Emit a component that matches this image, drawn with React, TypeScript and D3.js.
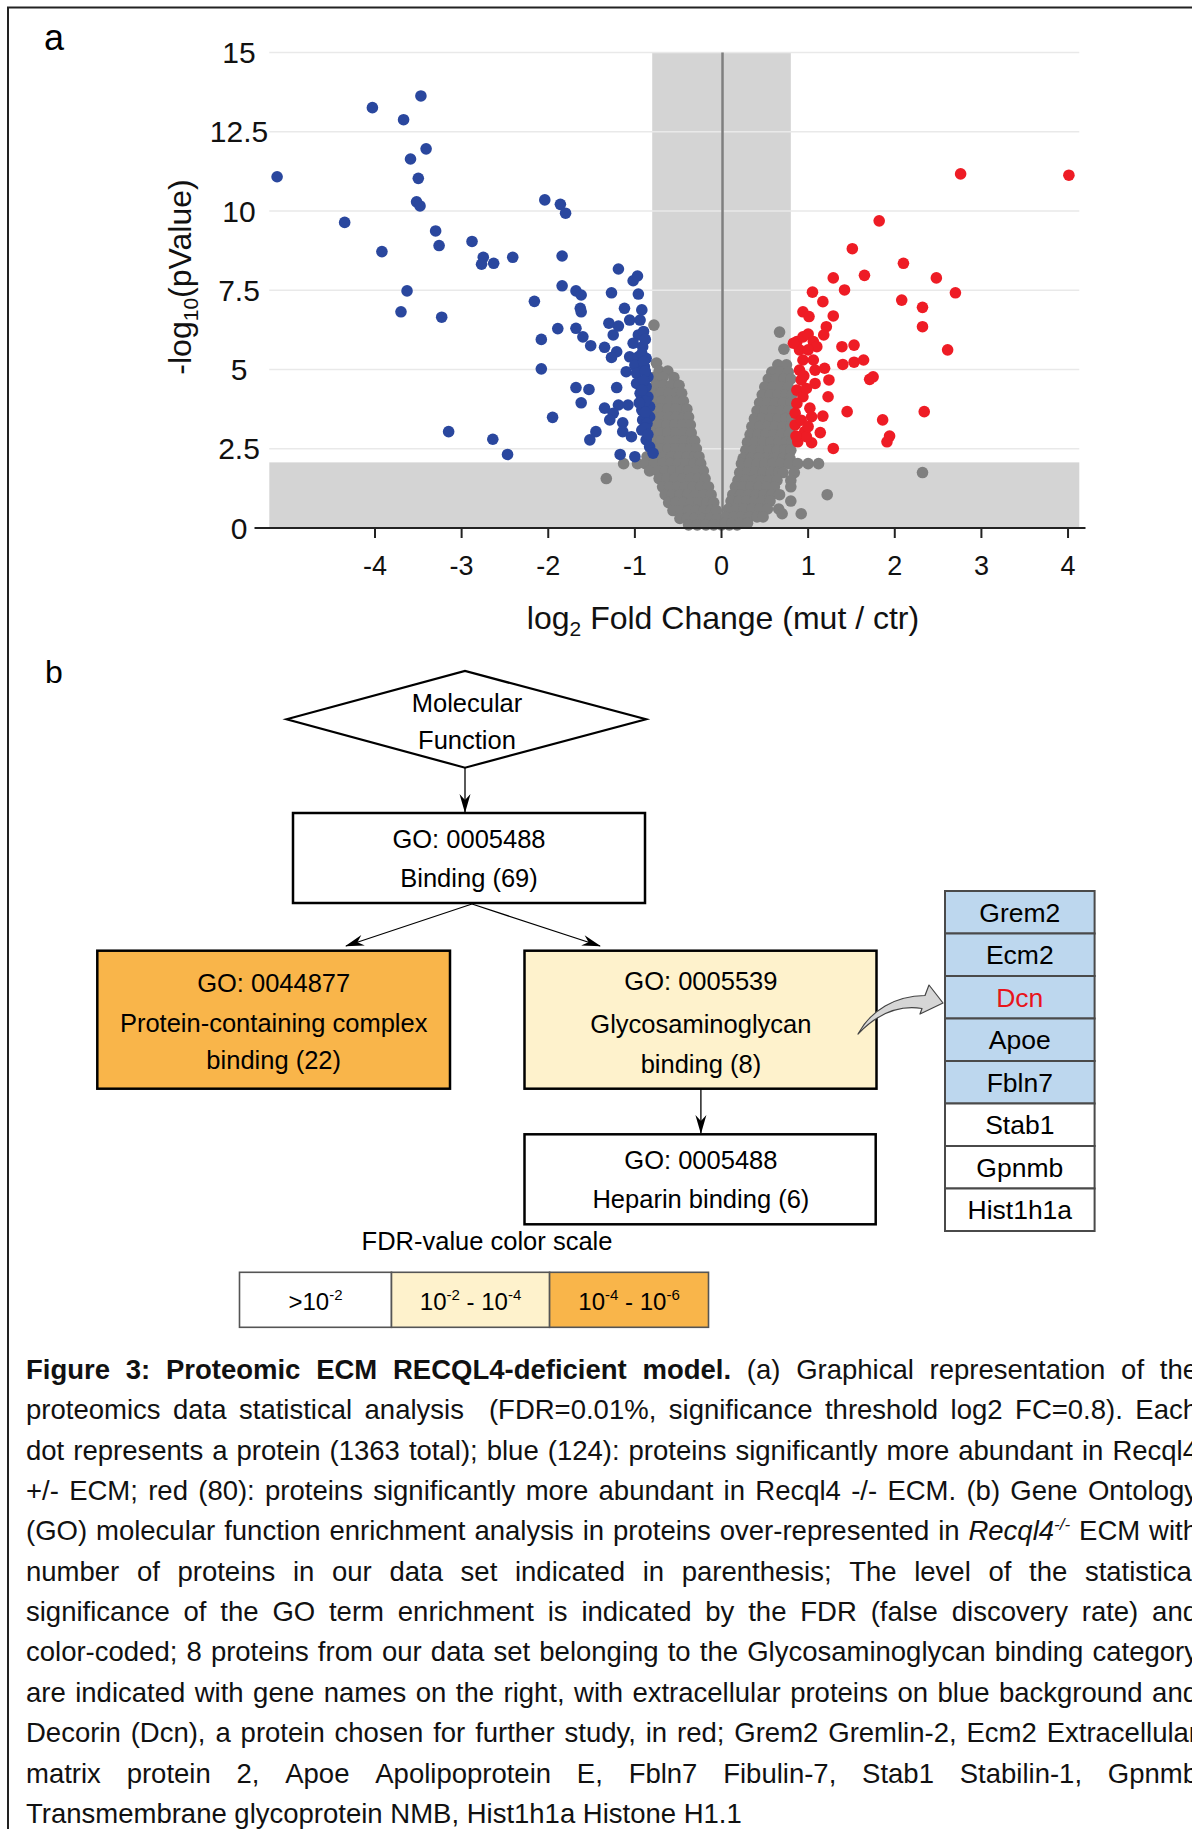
import React, { useMemo } from 'react';
import * as d3 from 'd3';

const FONT = "'Liberation Sans', Arial, Helvetica, sans-serif";

// ---------- panel a: volcano plot ----------
const xDomain: [number, number] = [-5.22, 4.13];
const yDomain: [number, number] = [0, 15];
const xTicks = [-4, -3, -2, -1, 0, 1, 2, 3, 4];
const yTicks = [0, 2.5, 5, 7.5, 10, 12.5, 15];
const yTickLabels = ['0', '2.5', '5', '7.5', '10', '12.5', '15'];
const fcThreshold = 0.8;
const pThreshold = 2.07;

// proteins more abundant in Recql4 +/- ECM (log2 FC, -log10 p)
const bluePoints: [number, number][] = [
  [-5.13, 11.08], [-4.03, 13.26], [-3.47, 13.63], [-3.67, 12.88], [-3.41, 11.96],
  [-3.59, 11.64], [-3.5, 11.03], [-3.52, 10.29], [-3.48, 10.16], [-4.35, 9.64],
  [-3.3, 9.37], [-3.26, 8.91], [-3.92, 8.72], [-2.88, 9.04], [-2.75, 8.54],
  [-2.77, 8.32], [-2.63, 8.35], [-2.41, 8.54], [-3.63, 7.48], [-3.7, 6.82],
  [-3.23, 6.65], [-3.15, 3.04], [-2.64, 2.8], [-2.47, 2.32], [-2.04, 10.35],
  [-1.86, 10.21], [-1.8, 9.93], [-2.16, 7.15], [-2.08, 5.95], [-2.08, 5.02],
  [-1.95, 3.49], [-1.89, 6.29], [-1.84, 8.58], [-1.84, 7.64], [-1.68, 7.48],
  [-1.62, 7.35], [-1.63, 6.93], [-1.62, 6.82], [-1.68, 6.3], [-1.6, 6.03],
  [-1.51, 5.75], [-1.68, 4.43], [-1.53, 4.37], [-1.62, 3.95], [-1.45, 3.04],
  [-1.52, 2.78], [-1.19, 8.17], [-1.02, 7.8], [-0.97, 7.95], [-1.27, 7.42],
  [-0.96, 7.38], [-1.12, 6.93], [-0.92, 6.88], [-1.3, 6.46], [-1.19, 6.37],
  [-1.06, 6.56], [-0.94, 6.56], [-1.25, 6.09], [-0.96, 6.09], [-1.35, 5.7],
  [-1.21, 5.56], [-1.27, 5.38], [-1.02, 5.83], [-0.91, 5.72], [-1.06, 5.4],
  [-0.96, 5.4], [-0.87, 5.35], [-1.0, 5.14], [-0.89, 5.09], [-1.1, 4.93],
  [-0.98, 4.88], [-0.85, 4.77], [-0.98, 4.56], [-0.87, 4.46], [-1.21, 4.43],
  [-0.94, 4.25], [-0.85, 4.14], [-1.35, 3.78], [-1.19, 3.88], [-1.08, 3.88],
  [-1.25, 3.62], [-1.29, 3.41], [-1.14, 3.32], [-0.92, 3.72], [-0.83, 3.83],
  [-0.91, 3.41], [-0.83, 3.51], [-1.14, 3.04], [-1.04, 2.88], [-0.92, 3.09],
  [-0.87, 2.78], [-0.83, 2.56], [-0.79, 2.36], [-1.17, 2.32], [-1.0, 2.25],
  [-0.9, 6.2], [-0.88, 5.95], [-0.92, 5.5], [-0.9, 5.25], [-0.88, 4.95],
  [-0.9, 4.65], [-0.92, 4.35], [-0.88, 4.0], [-0.95, 3.95], [-0.88, 3.65],
  [-0.86, 3.3], [-0.88, 3.15], [-0.85, 2.95],
];

// proteins more abundant in Recql4 -/- ECM
const redPoints: [number, number][] = [
  [2.76, 11.17], [4.01, 11.13], [1.82, 9.69], [1.51, 8.81], [2.1, 8.35],
  [1.29, 7.89], [1.65, 7.97], [2.48, 7.89], [1.42, 7.51], [2.7, 7.42],
  [1.05, 7.44], [1.17, 7.14], [2.08, 7.19], [2.32, 6.96], [2.32, 6.35],
  [0.94, 6.82], [1.01, 6.67], [1.29, 6.69], [1.21, 6.35], [1.18, 6.09],
  [2.61, 5.62], [1.39, 5.72], [1.53, 5.77], [1.4, 5.16], [1.53, 5.23],
  [1.64, 5.3], [1.71, 4.69], [1.75, 4.77], [1.45, 3.67], [2.34, 3.67],
  [1.86, 3.41], [1.94, 2.9], [1.91, 2.72], [1.29, 2.51], [0.87, 5.88],
  [0.94, 6.03], [1.0, 6.12], [1.06, 5.88], [1.1, 5.72], [0.9, 5.62],
  [1.0, 5.62], [0.94, 5.3], [1.06, 5.3], [0.9, 4.98], [1.08, 4.98],
  [1.19, 5.04], [0.92, 4.67], [1.08, 4.56], [1.24, 4.67], [0.87, 4.35],
  [0.94, 4.14], [1.23, 4.14], [0.87, 3.93], [1.02, 3.78], [0.85, 3.62],
  [1.04, 3.51], [1.17, 3.53], [0.96, 3.04], [1.14, 3.01], [0.88, 2.72],
  [1.04, 2.69], [0.98, 2.88], [0.83, 5.83], [0.85, 3.25], [0.86, 2.9],
  [0.95, 4.8], [0.98, 4.4], [0.92, 3.4], [1.0, 3.2],
];

// non-significant proteins, read row by row (-log10 p, log2 FC values)
const grayRows: [number, number[]][] = [
  [6.4, [-0.78]],
  [5.2, [-0.75]],
  [4.95, [-0.72, -0.62]],
  [4.75, [-0.78, -0.68, -0.55]],
  [4.5, [-0.76, -0.67, -0.58, -0.49]],
  [4.25, [-0.79, -0.7, -0.61, -0.52, -0.46]],
  [4.0, [-0.78, -0.69, -0.6, -0.51, -0.44]],
  [3.75, [-0.8, -0.71, -0.62, -0.53, -0.44, -0.4]],
  [3.5, [-0.79, -0.7, -0.61, -0.52, -0.43, -0.38]],
  [3.25, [-0.81, -0.72, -0.63, -0.54, -0.45, -0.36]],
  [3.0, [-0.8, -0.71, -0.62, -0.53, -0.44, -0.35]],
  [2.75, [-0.79, -0.7, -0.61, -0.52, -0.43, -0.34, -0.31]],
  [2.5, [-0.8, -0.71, -0.62, -0.53, -0.44, -0.36, -0.29]],
  [2.25, [-0.86, -0.76, -0.67, -0.58, -0.49, -0.4, -0.31, -0.26]],
  [2.03, [-1.13, -0.97, -0.88, -0.78, -0.68, -0.59, -0.5, -0.41, -0.32, -0.24]],
  [1.8, [-0.83, -0.74, -0.65, -0.56, -0.47, -0.38, -0.29, -0.21]],
  [1.56, [-1.33, -0.72, -0.63, -0.54, -0.45, -0.36, -0.27, -0.19]],
  [1.3, [-0.68, -0.6, -0.51, -0.42, -0.33, -0.24, -0.15]],
  [1.05, [-0.65, -0.57, -0.48, -0.39, -0.3, -0.21, -0.12]],
  [0.8, [-0.61, -0.53, -0.44, -0.35, -0.26, -0.17, -0.09]],
  [0.55, [-0.56, -0.47, -0.38, -0.29, -0.2, -0.12, -0.06]],
  [0.3, [-0.48, -0.4, -0.31, -0.22, -0.13, -0.05]],
  [0.1, [-0.38, -0.28, -0.18, -0.09, 0.0, 0.09, 0.18]],
  [6.18, [0.67]],
  [5.64, [0.72]],
  [5.15, [0.65, 0.75]],
  [4.92, [0.58, 0.67, 0.77]],
  [4.7, [0.54, 0.63, 0.72, 0.8]],
  [4.45, [0.5, 0.59, 0.68, 0.77]],
  [4.2, [0.47, 0.56, 0.65, 0.74, 0.81]],
  [3.95, [0.44, 0.53, 0.62, 0.71, 0.8]],
  [3.7, [0.41, 0.5, 0.59, 0.68, 0.77]],
  [3.45, [0.38, 0.47, 0.56, 0.65, 0.74, 0.81]],
  [3.2, [0.35, 0.44, 0.53, 0.62, 0.71, 0.8]],
  [2.95, [0.33, 0.42, 0.51, 0.6, 0.69, 0.78]],
  [2.7, [0.3, 0.39, 0.48, 0.57, 0.66, 0.75, 0.81]],
  [2.45, [0.28, 0.37, 0.46, 0.55, 0.64, 0.73, 0.8]],
  [2.2, [0.25, 0.34, 0.43, 0.52, 0.61, 0.71, 0.79]],
  [2.03, [0.23, 0.32, 0.41, 0.5, 0.59, 0.68, 0.78, 0.88, 1.0, 1.12]],
  [1.75, [0.21, 0.3, 0.39, 0.48, 0.57, 0.66, 0.71, 0.84, 2.32]],
  [1.5, [0.19, 0.28, 0.37, 0.46, 0.55, 0.64, 0.8]],
  [1.3, [0.16, 0.25, 0.34, 0.43, 0.52, 0.61, 0.8]],
  [1.05, [0.13, 0.22, 0.31, 0.4, 0.49, 0.58, 0.67, 1.22]],
  [0.85, [0.11, 0.2, 0.29, 0.38, 0.47, 0.56, 0.8]],
  [0.6, [0.08, 0.17, 0.26, 0.35, 0.44, 0.53, 0.66]],
  [0.45, [0.7, 0.92]],
  [0.35, [0.05, 0.14, 0.23, 0.32, 0.41, 0.48]],
  [0.15, [0.04, 0.12, 0.21, 0.3]],
];

// ---------- panel b: GO enrichment ----------
const geneNames = ['Grem2', 'Ecm2', 'Dcn', 'Apoe', 'Fbln7', 'Stab1', 'Gpnmb', 'Hist1h1a'];
const geneExtracellular = [true, true, true, true, true, false, false, false];
const highlightedGene = 'Dcn';

const fdrColors = ['#FFFFFF', '#FEF2CC', '#F9B54A'];
const fdrLabels: [string, string, string, string][] = [
  ['>10', '-2', '', ''],
  ['10', '-2', ' - 10', '-4'],
  ['10', '-4', ' - 10', '-6'],
];

// ---------- caption ----------
const captionLines = [
  'Figure 3: Proteomic ECM RECQL4-deficient model. (a) Graphical representation of the',
  'proteomics data statistical analysis  (FDR=0.01%, significance threshold log2 FC=0.8). Each',
  'dot represents a protein (1363 total); blue (124): proteins significantly more abundant in Recql4',
  '+/- ECM; red (80): proteins significantly more abundant in Recql4 -/- ECM. (b) Gene Ontology',
  '(GO) molecular function enrichment analysis in proteins over-represented in Recql4^-/- ECM with',
  'number of proteins in our data set indicated in parenthesis; The level of the statistical',
  'significance of the GO term enrichment is indicated by the FDR (false discovery rate) and',
  'color-coded; 8 proteins from our data set belonging to the Glycosaminoglycan binding category',
  'are indicated with gene names on the right, with extracellular proteins on blue background and',
  'Decorin (Dcn), a protein chosen for further study, in red; Grem2 Gremlin-2, Ecm2 Extracellular',
  'matrix protein 2, Apoe Apolipoprotein E, Fbln7 Fibulin-7, Stab1 Stabilin-1, Gpnmb',
  'Transmembrane glycoprotein NMB, Hist1h1a Histone H1.1',
];
const captionBoldWords = 6;

type Seg = { t: string; bold?: boolean; italic?: boolean; sup?: boolean };
type PlacedWord = { x: number; segs: Seg[] };

const CAP_SIZE = 27.5;
const CAP_SUP = 17;
const CAP_LEFT = 26;
const CAP_RIGHT = 1198;
const CAP_TOP = 1379;
const CAP_STEP = 40.35;

function layoutCaption(): PlacedWord[][] {
  const canvas = document.createElement('canvas');
  const ctx = canvas.getContext('2d')!;
  const measure = (s: Seg) => {
    ctx.font = `${s.italic ? 'italic ' : ''}${s.bold ? 'bold ' : ''}${s.sup ? CAP_SUP : CAP_SIZE}px ${FONT}`;
    return ctx.measureText(s.t).width;
  };
  const space = measure({ t: ' ' });
  return captionLines.map((line, li) => {
    const words = line.split(' ').map((w, wi) => {
      let segs: Seg[];
      if (w.includes('^')) {
        const [base, sup] = w.split('^');
        segs = [{ t: base, italic: true }, { t: sup, italic: true, sup: true }];
      } else {
        segs = [{ t: w, bold: li === 0 && wi < captionBoldWords }];
      }
      const width = d3.sum(segs, measure);
      return { segs, width };
    });
    const total = d3.sum(words, (w) => w.width);
    const last = li === captionLines.length - 1;
    const gap = last ? space : (CAP_RIGHT - CAP_LEFT - total) / (words.length - 1);
    let cx = CAP_LEFT;
    return words.map((w) => {
      const placed = { x: cx, segs: w.segs };
      cx += w.width + gap;
      return placed;
    });
  });
}

function Arrow({ x1, y1, x2, y2 }: { x1: number; y1: number; x2: number; y2: number }) {
  return <line x1={x1} y1={y1} x2={x2} y2={y2} stroke="#000" strokeWidth={1.3} markerEnd="url(#stealth)" />;
}

export default function App() {
  const x = d3.scaleLinear().domain(xDomain).range([269.3, 1079.3]);
  const y = d3.scaleLinear().domain(yDomain).range([528, 52.5]);
  const caption = useMemo(() => layoutCaption(), []);

  const grayPoints: [number, number][] = grayRows.flatMap(([v, xs]) => xs.map((fc) => [fc, v] as [number, number]));

  const R = 5.8;
  const boxFont = 25.5;
  const geneTop = 891;
  const geneRow = 42.5;
  const geneX = 945;
  const geneW = 149.6;

  const legendX = [239.5, 391.5, 549.6, 708.5];

  return (
    <svg
      width={1192}
      height={1829}
      viewBox="0 0 1192 1829"
      style={{ position: 'absolute', left: 0, top: 0, display: 'block', background: '#fff' }}
      fontFamily={FONT}
    >
      <defs>
        <marker id="stealth" viewBox="-20 -6 22 12" refX={0} refY={0} markerWidth={22} markerHeight={12}
          markerUnits="userSpaceOnUse" orient="auto">
          <path d="M1,0 L-18,-5.5 L-12,0 L-18,5.5 Z" fill="#000" />
        </marker>
      </defs>
      <rect x={0} y={0} width={1192} height={1829} fill="#fff" />
      <rect x={8} y={7.5} width={1260} height={1900} fill="none" stroke="#222" strokeWidth={2} />

      {/* ---------- panel a ---------- */}
      <text x={44} y={50} fontSize={36}>a</text>

      {/* shaded non-significant zones */}
      <rect x={x(xDomain[0])} y={y(pThreshold)} width={x(xDomain[1]) - x(xDomain[0])} height={y(0) - y(pThreshold)} fill="#D4D4D4" />
      <rect x={x(-fcThreshold)} y={y(15)} width={x(fcThreshold) - x(-fcThreshold)} height={y(0) - y(15)} fill="#D4D4D4" />

      {/* gridlines */}
      {yTicks.filter((t) => t > 0).map((t) => (
        <line key={t} x1={x(xDomain[0])} x2={x(xDomain[1])} y1={y(t)} y2={y(t)} stroke="#E9E9E9" strokeWidth={1.6} />
      ))}

      {/* zero line */}
      <line x1={x(0) + 1} x2={x(0) + 1} y1={y(15)} y2={y(0)} stroke="#7F7F7F" strokeWidth={2.5} />

      {/* points */}
      <g fill="#7F7F7F">
        {grayPoints.map(([fc, p], i) => <circle key={i} cx={x(fc)} cy={y(p)} r={R} />)}
      </g>
      <g fill="#2A479E">
        {bluePoints.map(([fc, p], i) => <circle key={i} cx={x(fc)} cy={y(p)} r={R} />)}
      </g>
      <g fill="#EE1C25">
        {redPoints.map(([fc, p], i) => <circle key={i} cx={x(fc)} cy={y(p)} r={R} />)}
      </g>

      {/* x axis */}
      <line x1={254.5} x2={1085.5} y1={y(0)} y2={y(0)} stroke="#222" strokeWidth={2.2} />
      {xTicks.map((t) => (
        <g key={t}>
          <line x1={x(t)} x2={x(t)} y1={y(0)} y2={y(0) + 10} stroke="#222" strokeWidth={2} />
          <text x={x(t)} y={575} fontSize={27} textAnchor="middle" fill="#111">{t}</text>
        </g>
      ))}
      {yTicks.map((t, i) => (
        <text key={t} x={239} y={y(t) + 10.5} fontSize={30} textAnchor="middle" fill="#111">{yTickLabels[i]}</text>
      ))}

      <text x={723} y={629} fontSize={32} textAnchor="middle" fill="#111">
        log<tspan fontSize={21} dy={7}>2</tspan><tspan dy={-7}> Fold Change (mut / ctr)</tspan>
      </text>
      <text transform="translate(191,277) rotate(-90)" fontSize={32} textAnchor="middle" fill="#111">
        -log<tspan fontSize={21} dy={7}>10</tspan><tspan dy={-7}>(pValue)</tspan>
      </text>

      {/* ---------- panel b ---------- */}
      <text x={45} y={683} fontSize={32}>b</text>

      <polygon points="286.6,719.3 465,671 646,719.3 465,767.7" fill="#fff" stroke="#000" strokeWidth={2.2} />
      <text x={467} y={712} fontSize={boxFont} textAnchor="middle">Molecular</text>
      <text x={467} y={749} fontSize={boxFont} textAnchor="middle">Function</text>

      <Arrow x1={465} y1={768} x2={465} y2={812} />

      <rect x={293} y={813} width={352} height={90} fill="#fff" stroke="#000" strokeWidth={2.5} />
      <text x={469} y={848} fontSize={boxFont} textAnchor="middle">GO: 0005488</text>
      <text x={469} y={887} fontSize={boxFont} textAnchor="middle">Binding (69)</text>

      <Arrow x1={472} y1={904} x2={346} y2={946} />
      <Arrow x1={472} y1={904} x2={600} y2={946} />

      <rect x={97.3} y={950.7} width={352.7} height={138} fill={fdrColors[2]} stroke="#000" strokeWidth={2.5} />
      <text x={273.7} y={992} fontSize={boxFont} textAnchor="middle">GO: 0044877</text>
      <text x={273.7} y={1032} fontSize={boxFont} textAnchor="middle">Protein-containing complex</text>
      <text x={273.7} y={1069} fontSize={boxFont} textAnchor="middle">binding (22)</text>

      <rect x={524.5} y={950.7} width={352} height={138} fill={fdrColors[1]} stroke="#000" strokeWidth={2.5} />
      <text x={700.9} y={990} fontSize={boxFont} textAnchor="middle">GO: 0005539</text>
      <text x={700.9} y={1033} fontSize={boxFont} textAnchor="middle">Glycosaminoglycan</text>
      <text x={700.9} y={1073} fontSize={boxFont} textAnchor="middle">binding (8)</text>

      <Arrow x1={700.9} y1={1089} x2={700.9} y2={1133} />

      <rect x={524.5} y={1134.3} width={351.2} height={90} fill="#fff" stroke="#000" strokeWidth={2.5} />
      <text x={700.9} y={1169} fontSize={boxFont} textAnchor="middle">GO: 0005488</text>
      <text x={700.9} y={1208} fontSize={boxFont} textAnchor="middle">Heparin binding (6)</text>

      {/* curved block arrow toward gene list */}
      <path
        d="M858,1034 C871,1010 895,996 925,995.5 L929,985 L943,1003 L920,1014 L922,1008.5 C900,1005 879,1012 858,1034 Z"
        fill="#D6D6D6" stroke="#444" strokeWidth={1.2} strokeLinejoin="round"
      />

      {/* gene list */}
      {geneNames.map((g, i) => (
        <g key={g}>
          <rect x={geneX} y={geneTop + i * geneRow} width={geneW} height={geneRow}
            fill={geneExtracellular[i] ? '#BDD7EE' : '#fff'} stroke="#4A4A4A" strokeWidth={2} />
          <text x={geneX + geneW / 2} y={geneTop + i * geneRow + geneRow / 2 + 9.5} fontSize={26.5}
            textAnchor="middle" fill={g === highlightedGene ? '#E8141B' : '#000'}>{g}</text>
        </g>
      ))}

      {/* FDR legend */}
      <text x={487} y={1250} fontSize={boxFont} textAnchor="middle">FDR-value color scale</text>
      {fdrLabels.map((lab, i) => {
        const x0 = legendX[i];
        const x1 = legendX[i + 1];
        return (
          <g key={i}>
            <rect x={x0} y={1272.3} width={x1 - x0} height={55} fill={fdrColors[i]} stroke="#555" strokeWidth={1.6} />
            <text x={(x0 + x1) / 2} y={1310} fontSize={24} textAnchor="middle">
              {lab[0]}<tspan fontSize={15} dy={-10}>{lab[1]}</tspan>
              {lab[2] ? <tspan dy={10}>{lab[2]}</tspan> : null}
              {lab[3] ? <tspan fontSize={15} dy={-10}>{lab[3]}</tspan> : null}
            </text>
          </g>
        );
      })}

      {/* caption */}
      {caption.map((words, li) => (
        <g key={li}>
          {words.map((w, wi) => (
            <text key={wi} x={w.x} y={CAP_TOP + li * CAP_STEP} fontSize={CAP_SIZE} fill="#111">
              {w.segs.map((s, si) => (
                <tspan key={si} fontWeight={s.bold ? 'bold' : 'normal'} fontStyle={s.italic ? 'italic' : 'normal'}
                  fontSize={s.sup ? CAP_SUP : CAP_SIZE} dy={s.sup ? -10 : 0}>{s.t}</tspan>
              ))}
            </text>
          ))}
        </g>
      ))}
    </svg>
  );
}
